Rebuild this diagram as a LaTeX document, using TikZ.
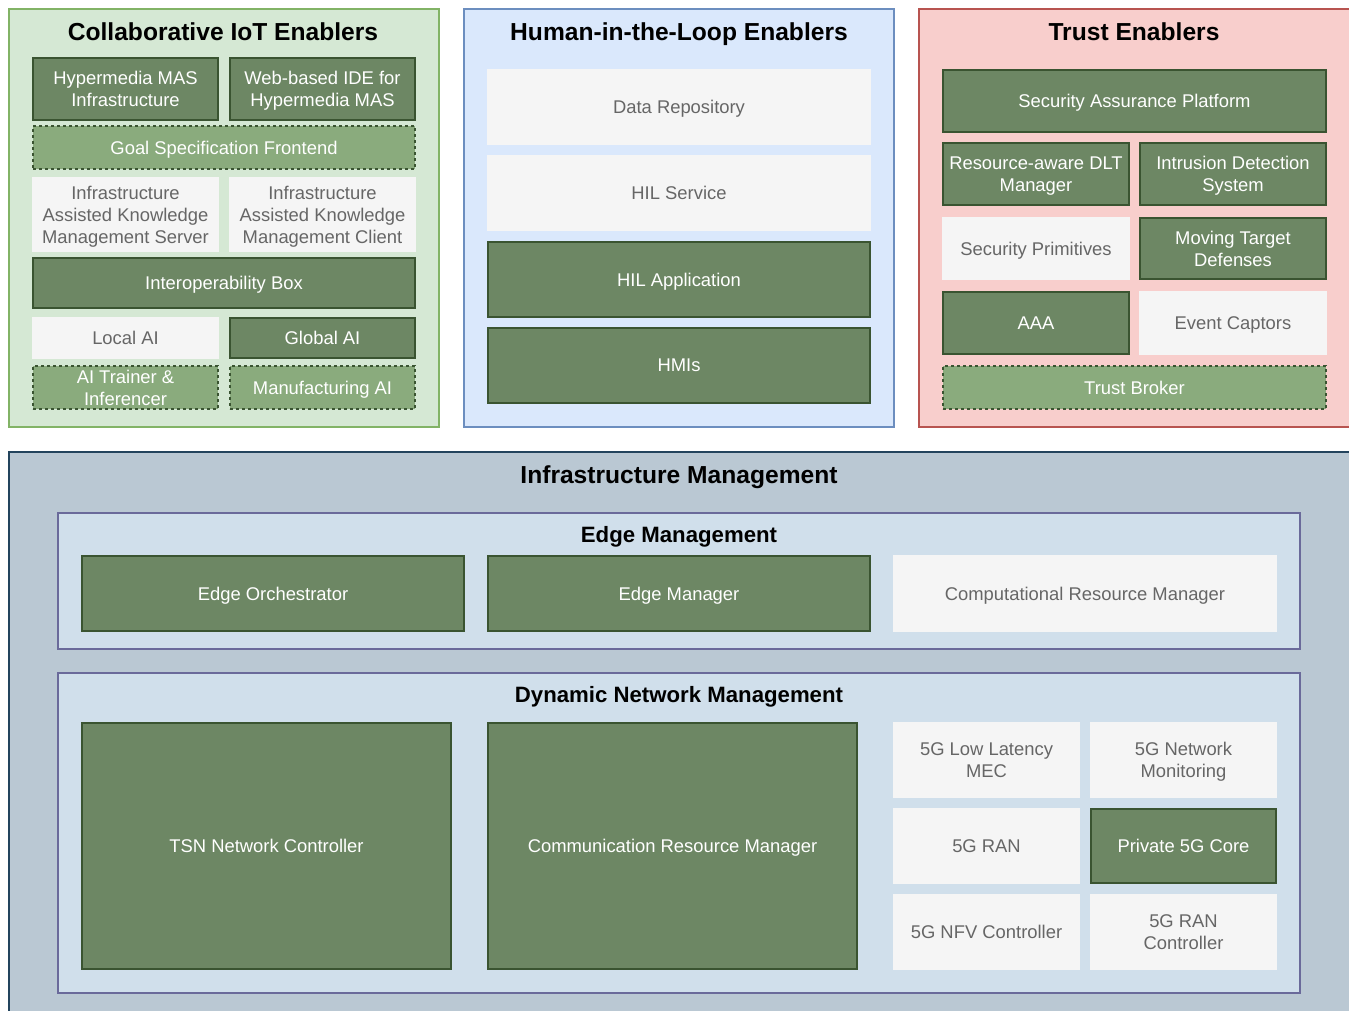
\documentclass[tikz,border=0pt]{standalone}
\usepackage{fontspec}
\setmainfont{Liberation Sans}
\definecolor{dkg}{HTML}{6D8764}
\definecolor{dkgb}{HTML}{3A5431}
\definecolor{lgf}{HTML}{8AAB7D}
\definecolor{gyf}{HTML}{F5F5F5}
\definecolor{gyt}{HTML}{666666}
\definecolor{gpf}{HTML}{D5E8D4}
\definecolor{gpb}{HTML}{82B366}
\definecolor{bpf}{HTML}{DAE8FC}
\definecolor{bpb}{HTML}{6C8EBF}
\definecolor{rpf}{HTML}{F8CECC}
\definecolor{rpb}{HTML}{B85450}
\definecolor{imf}{HTML}{BAC8D3}
\definecolor{imb}{HTML}{23445D}
\definecolor{inf}{HTML}{D0DFEB}
\definecolor{inb}{HTML}{6A6A9A}
\tikzset{
  bx/.style={rectangle, inner sep=0pt, outer sep=0pt, align=center, text depth=0pt, font=\fontsize{18.4}{22}\selectfont, line width=1.2pt},
  dk/.style={bx, fill=dkg, draw=dkgb, text=white},
  dsh/.style={bx, fill=lgf, draw=dkgb, dashed, text=white},
  gy/.style={bx, fill=gyf, draw=gyf, text=gyt},
  panel/.style={rectangle, inner sep=0pt, outer sep=0pt, line width=1.2pt},
  ttl/.style={font=\fontsize{24.6}{28}\selectfont\bfseries, text=black, inner sep=0pt, text depth=0pt},
  sttl/.style={font=\fontsize{22.2}{26}\selectfont\bfseries, text=black, inner sep=0pt, text depth=0pt},
}
\begin{document}
\begin{tikzpicture}[x=1pt,y=-1pt]
\useasboundingbox (0,0) rectangle (1349,1011);
% top panels
\node[panel, fill=gpf, draw=gpb, minimum width=430, minimum height=418] (pg) at (224,218) {};
\node[panel, fill=bpf, draw=bpb, minimum width=430, minimum height=418] (pb) at (679,218) {};
\node[panel, fill=rpf, draw=rpb, minimum width=441, minimum height=418] (pr) at (1139.5,218) {};
\node[ttl] (tg) at (223,32) {Collaborative IoT Enablers};
\node[ttl] (tb) at (679,32) {Human-in-the-Loop Enablers};
\node[ttl] (tr) at (1134,32) {Trust Enablers};
% green panel
\node[dk, minimum width=185, minimum height=62] (hmas) at (125.5,89) {Hypermedia MAS\\Infrastructure};
\node[dk, minimum width=185, minimum height=62] (ide) at (322.5,89) {Web-based IDE for\\Hypermedia MAS};
\node[dsh, minimum width=382, minimum height=43] (goal) at (224,147.5) {Goal Specification Frontend};
\node[gy, minimum width=185, minimum height=73] (kms) at (125.5,214.5) {Infrastructure\\Assisted Knowledge\\Management Server};
\node[gy, minimum width=185, minimum height=73] (kmc) at (322.5,214.5) {Infrastructure\\Assisted Knowledge\\Management Client};
\node[dk, minimum width=382, minimum height=50] (iop) at (224,283) {Interoperability Box};
\node[gy, minimum width=185, minimum height=40] (lai) at (125.5,338) {Local AI};
\node[dk, minimum width=185, minimum height=40] (gai) at (322.5,338) {Global AI};
\node[dsh, minimum width=185, minimum height=43] (ait) at (125.5,387.5) {AI Trainer \&\\Inferencer};
\node[dsh, minimum width=185, minimum height=43] (mai) at (322.5,387.5) {Manufacturing AI};
% blue panel
\node[gy, minimum width=382, minimum height=74] (drep) at (679,107) {Data Repository};
\node[gy, minimum width=382, minimum height=74] (hils) at (679,193) {HIL Service};
\node[dk, minimum width=382, minimum height=75] (hila) at (679,279.5) {HIL Application};
\node[dk, minimum width=382, minimum height=75] (hmi) at (679,365.5) {HMIs};
% red panel
\node[dk, minimum width=383, minimum height=62] (sap) at (1134.5,101) {Security Assurance Platform};
\node[dk, minimum width=186, minimum height=62] (dlt) at (1036,174) {Resource-aware DLT\\Manager};
\node[dk, minimum width=186, minimum height=62] (ids) at (1233,174) {Intrusion Detection\\System};
\node[gy, minimum width=186, minimum height=61] (spr) at (1036,248.5) {Security Primitives};
\node[dk, minimum width=186, minimum height=61] (mtd) at (1233,248.5) {Moving Target\\Defenses};
\node[dk, minimum width=186, minimum height=62] (aaa) at (1036,323) {AAA};
\node[gy, minimum width=186, minimum height=62] (evc) at (1233,323) {Event Captors};
\node[dsh, minimum width=383, minimum height=43] (tbr) at (1134.5,387.5) {Trust Broker};
% bottom
\node[panel, fill=imf, draw=imb, minimum width=1351, minimum height=580] (im) at (684.5,742) {};
\node[ttl] (tim) at (679,475) {Infrastructure Management};
\node[panel, fill=inf, draw=inb, minimum width=1242, minimum height=136] (edm) at (679,581) {};
\node[sttl] (tedm) at (679,534) {Edge Management};
\node[dk, minimum width=382, minimum height=75] (eo) at (273,593.5) {Edge Orchestrator};
\node[dk, minimum width=382, minimum height=75] (emg) at (679,593.5) {Edge Manager};
\node[gy, minimum width=382, minimum height=75] (crm) at (1085,593.5) {Computational Resource Manager};
\node[panel, fill=inf, draw=inb, minimum width=1242, minimum height=320] (dnm) at (679,833) {};
\node[sttl] (tdnm) at (679,694) {Dynamic Network Management};
\node[dk, minimum width=369, minimum height=246] (tsn) at (266.5,846) {TSN Network Controller};
\node[dk, minimum width=369, minimum height=246] (comm) at (672.5,846) {Communication Resource Manager};
\node[gy, minimum width=185, minimum height=74] (mec) at (986.5,760) {5G Low Latency\\MEC};
\node[gy, minimum width=185, minimum height=74] (mon) at (1183.5,760) {5G Network\\Monitoring};
\node[gy, minimum width=185, minimum height=74] (ran) at (986.5,846) {5G RAN};
\node[dk, minimum width=185, minimum height=74] (p5g) at (1183.5,846) {Private 5G Core};
\node[gy, minimum width=185, minimum height=74] (nfv) at (986.5,932) {5G NFV Controller};
\node[gy, minimum width=185, minimum height=74] (ranc) at (1183.5,932) {5G RAN\\Controller};
\end{tikzpicture}
\end{document}
